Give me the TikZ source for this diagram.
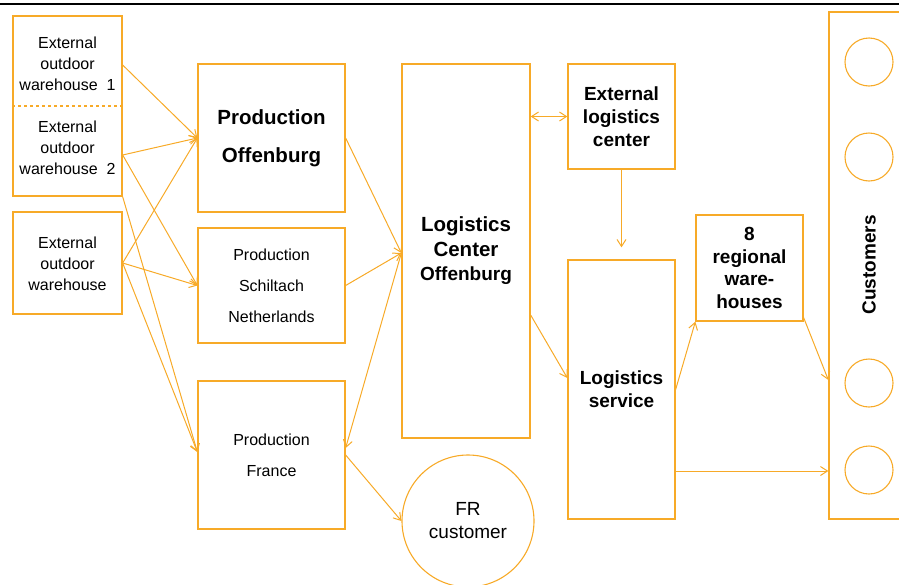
\documentclass[tikz,border=0pt]{standalone}
\usepackage{fontspec}
\setmainfont{Liberation Sans}
\usetikzlibrary{arrows.meta}
\definecolor{org}{RGB}{247,170,40}
\begin{document}
\begin{tikzpicture}[x=1pt,y=-1pt,
  box/.style={draw=org,line width=1.3pt,rectangle,inner sep=0pt},
  circ/.style={draw=org,line width=1.1pt,circle,inner sep=0pt},
  lbl/.style={align=center,inner sep=0pt},
  reg/.style={lbl,font=\fontsize{16}{21}\selectfont},
  regwide/.style={lbl,font=\fontsize{16}{31}\selectfont},
  bld/.style={lbl,font=\bfseries\fontsize{19}{23}\selectfont},
  conn/.style={draw=org,line width=1pt},
  >={Straight Barb[length=7pt,width=9pt]}]
\useasboundingbox (0,0) rectangle (899,584);
\draw[line width=2.5pt] (0,4) -- (899,4);

% left warehouses
\node[box,minimum width=109pt,minimum height=180pt] (wbox) at (67.5,106) {};
\draw[draw=org,line width=1.2pt,dashed] (wbox.west |- 0,106) -- (wbox.east |- 0,106);
\node[reg] (w1) at (67.5,64) {External\\outdoor\\warehouse\ \ 1};
\node[reg] (w2) at (67.5,148) {External\\outdoor\\warehouse\ \ 2};
\node[box,minimum width=109pt,minimum height=102pt] (w3box) at (67.5,263) {};
\node[reg] (w3) at (67.5,264) {External\\outdoor\\warehouse};

% production
\node[box,minimum width=147pt,minimum height=148pt,lbl,font=\bfseries\fontsize{20.5}{38}\selectfont] (po) at (271.5,138) {Production\\Offenburg};
\node[box,minimum width=147pt,minimum height=115pt,regwide] (ps) at (271.5,285.5) {Production\\Schiltach\\Netherlands};
\node[box,minimum width=147pt,minimum height=148pt,regwide] (pf) at (271.5,455) {Production\\France};

% logistics
\node[box,minimum width=128pt,minimum height=374pt,lbl,font=\bfseries\fontsize{20.5}{24.5}\selectfont] (lco) at (466,251) {Logistics\\Center\\{\fontsize{19}{24.5}\selectfont Offenburg}};
\node[box,minimum width=107pt,minimum height=105pt,bld] (elc) at (621.5,116.5) {External\\logistics\\center};
\node[box,minimum width=107pt,minimum height=259pt,bld] (ls) at (621.5,389.5) {Logistics\\service};
\node[box,minimum width=107pt,minimum height=106pt,lbl,font=\bfseries\fontsize{19}{22.5}\selectfont] (rw) at (749.5,268) {8\\regional\\ware-\\houses};

% customers
\node[box,minimum width=81pt,minimum height=507pt] (cust) at (869.5,265.5) {};
\node[lbl,rotate=90,font=\bfseries\fontsize{19}{23}\selectfont] (custlbl) at (869,265) {Customers};
\node[circ,minimum size=48pt] (c1) at (869,62) {};
\node[circ,minimum size=48pt] (c2) at (869,157) {};
\node[circ,minimum size=48pt] (c3) at (869,383) {};
\node[circ,minimum size=48pt] (c4) at (869,470) {};
\node[circ,minimum size=132pt,lbl,font=\fontsize{19}{23}\selectfont] (fr) at (468,521) {FR\\customer};

% connectors from warehouses
\draw[conn,->] ([yshift=41pt]wbox.east) -- (po.west);
\draw[conn,->] ([yshift=-49pt]wbox.east) -- (po.west);
\draw[conn,->] ([yshift=-49pt]wbox.east) -- (ps.west);
\draw[conn,->] (wbox.south east) -- ([yshift=3pt]pf.west);
\draw[conn,->] (w3box.east) -- (po.west);
\draw[conn,->] (w3box.east) -- (ps.west);
\draw[conn,->] (w3box.east) -- ([yshift=3pt]pf.west);

% production to logistics center
\draw[conn,->] (po.east) -- ([yshift=-2pt]lco.west);
\draw[conn,->] (ps.east) -- ([yshift=-2pt]lco.west);
\draw[conn,->] ([yshift=-2pt]lco.west) -- ([yshift=7pt]pf.east);
\draw[conn,->] (pf.east) -- (fr.west);

% logistics flows
\draw[conn,<->] (lco.east |- elc) -- (elc.west);
\draw[conn,->] (elc.south) -- ([yshift=12pt]ls.north);
\draw[conn,->] ([yshift=-64pt]lco.east) -- ([yshift=11.5pt]ls.west);
\draw[conn,->] (ls.east) -- (rw.south west);
\draw[conn,->] ([yshift=4pt]rw.south east) -- ([yshift=-114.5pt]cust.west);
\coordinate (lsout) at ([yshift=-81.5pt]ls.east);
\draw[conn,->] (lsout) -- (lsout -| cust.west);
\end{tikzpicture}
\end{document}
